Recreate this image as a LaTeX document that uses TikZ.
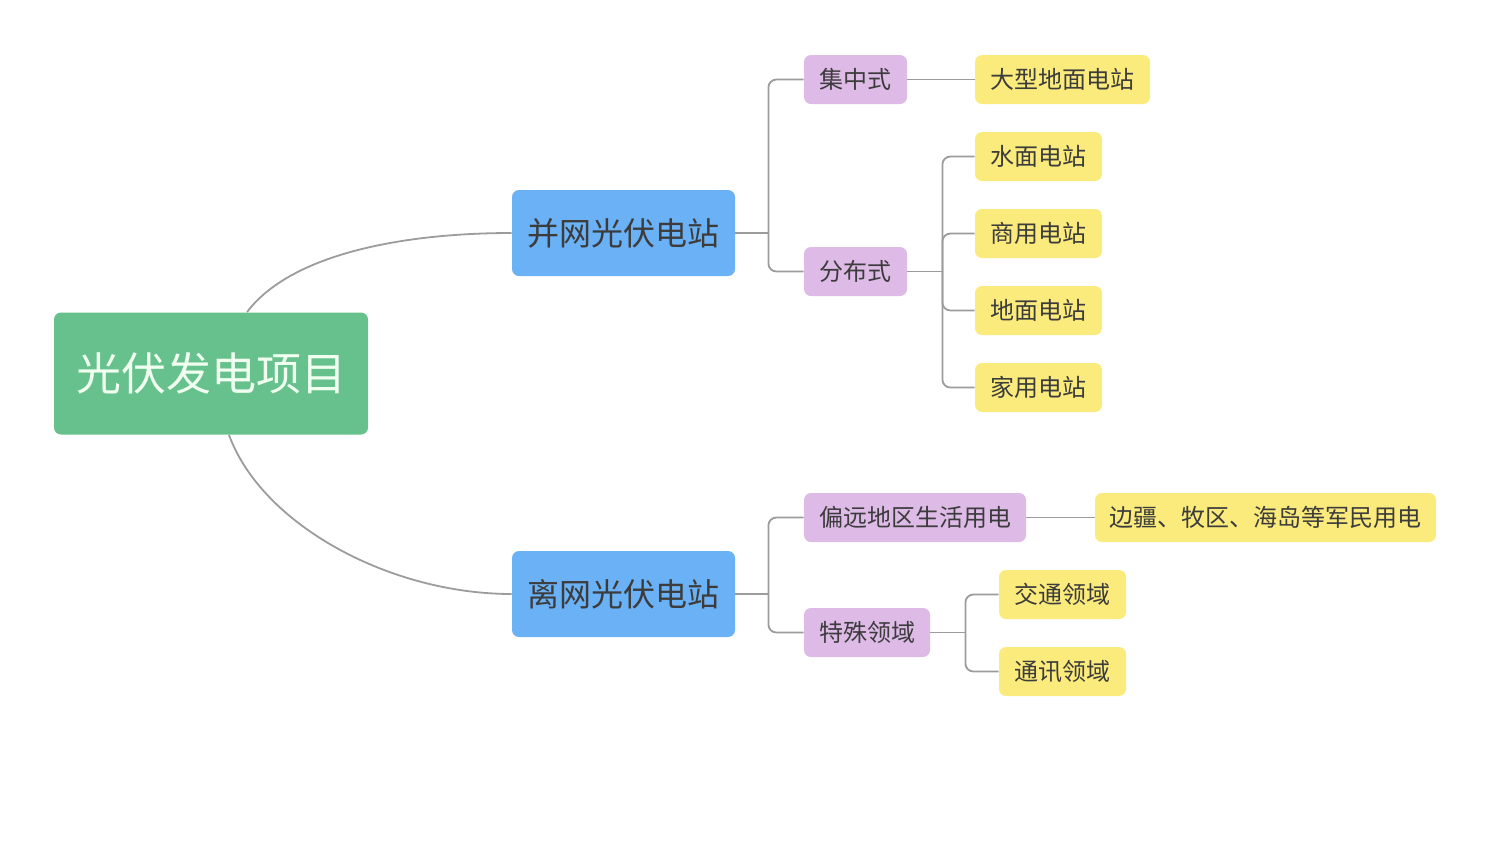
\documentclass[tikz,border=0pt]{standalone}
\usepackage{fontspec}
\newfontfamily\cjk{Noto Sans CJK SC}
\usetikzlibrary{calc}
\definecolor{rootgreen}{HTML}{66C18D}
\definecolor{bluebox}{HTML}{6BB1F5}
\definecolor{purplebox}{HTML}{DEBAE6}
\definecolor{yellowbox}{HTML}{FBEB7C}
\definecolor{linegray}{HTML}{9C9C9C}
\definecolor{txt}{HTML}{3C3C3C}
\tikzset{
  box/.style={rectangle, rounded corners=3.5pt, draw=none, inner sep=0pt, text=txt},
  rootbox/.style={box, fill=rootgreen, text=white!94!green, minimum width=157pt, minimum height=61pt, font=\cjk\fontsize{22.5pt}{26pt}\selectfont},
  lvone/.style={box, fill=bluebox, minimum width=111.5pt, minimum height=43pt, font=\cjk\fontsize{16pt}{19pt}\selectfont},
  lvtwo/.style={box, fill=purplebox, minimum height=24.5pt, font=\cjk\fontsize{12pt}{14pt}\selectfont},
  lvthree/.style={box, fill=yellowbox, minimum height=24.5pt, font=\cjk\fontsize{12pt}{14pt}\selectfont},
  conn/.style={draw=linegray, line width=0.9pt},
  bracket/.style={conn, rounded corners=4pt}
}
\begin{document}
\begin{tikzpicture}[x=0.5pt, y=-0.5pt]
\useasboundingbox (0,0) rectangle (1499,863);
\fill[white] (0,0) rectangle (1499,863);

\node[rootbox] (root) at (211,373.5) {光伏发电项目};
\node[lvone] (g1) at (623.5,233) {并网光伏电站};
\node[lvone] (g2) at (623.5,594) {离网光伏电站};

\node[lvtwo, minimum width=51.5pt] (p1) at (855.5,79.5) {集中式};
\node[lvtwo, minimum width=51.5pt] (p2) at (855.5,271.5) {分布式};
\node[lvtwo, minimum width=111pt] (p3) at (915,517.5) {偏远地区生活用电};
\node[lvtwo, minimum width=63pt] (p4) at (867,632.5) {特殊领域};

\node[lvthree, minimum width=87.5pt] (y1) at (1062.5,79.5) {大型地面电站};
\node[lvthree, minimum width=63.5pt] (y2) at (1038.5,156.5) {水面电站};
\node[lvthree, minimum width=63.5pt] (y3) at (1038.5,233.5) {商用电站};
\node[lvthree, minimum width=63.5pt] (y4) at (1038.5,310.5) {地面电站};
\node[lvthree, minimum width=63.5pt] (y5) at (1038.5,387.5) {家用电站};
\node[lvthree, minimum width=170.5pt] (y6) at (1265.5,517.5) {边疆、牧区、海岛等军民用电};
\node[lvthree, minimum width=63.5pt] (y7) at (1062.5,594.5) {交通领域};
\node[lvthree, minimum width=63.5pt] (y8) at (1062.5,671.5) {通讯领域};

% root to level one
\draw[conn] ([xshift=18pt]root.north) .. controls (290,255) and (400,233) .. (g1.west);
\draw[conn] ([xshift=9pt]root.south) .. controls (262,525) and (390,594) .. (g2.west);

% level one to level two
\coordinate (j1) at ($(g1.east)+(33,0)$);
\draw[conn] (g1.east) -- (j1);
\draw[bracket] (p1.west) -| (j1) |- (p2.west);
\coordinate (j2) at ($(g2.east)+(33,0)$);
\draw[conn] (g2.east) -- (j2);
\draw[bracket] (p3.west) -| (j2) |- (p4.west);

% level two to level three
\draw[conn] (p1.east) -- (y1.west);
\coordinate (j3) at ($(p2.east)+(35,0)$);
\draw[conn] (p2.east) -- (j3);
\draw[bracket] (y2.west) -| (j3) |- (y5.west);
\draw[bracket] (j3) |- (y3.west);
\draw[bracket] (j3) |- (y4.west);
\draw[conn] (p3.east) -- (y6.west);
\coordinate (j4) at ($(p4.east)+(35,0)$);
\draw[conn] (p4.east) -- (j4);
\draw[bracket] (y7.west) -| (j4) |- (y8.west);
\end{tikzpicture}
\end{document}
